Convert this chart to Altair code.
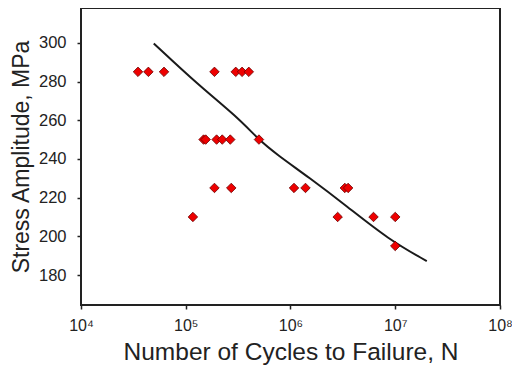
import altair as alt
import pandas as pd

# Experimental data: cycles to failure and stress amplitude (MPa)
cycles = [3.5e4, 4.4e4, 6.2e4, 1.88e5, 3.0e5, 3.45e5, 4.0e5,
          1.48e5, 1.55e5, 1.97e5, 2.23e5, 2.66e5, 5.0e5,
          1.88e5, 2.72e5, 1.08e6, 1.39e6, 3.3e6, 3.55e6,
          1.17e5, 2.82e6, 6.2e6, 1.0e7,
          1.0e7]
stress = [285, 285, 285, 285, 285, 285, 285,
          250, 250, 250, 250, 250, 250,
          225, 225, 225, 225, 225, 225,
          210, 210, 210, 210,
          195]

# Fitted S-N curve
curve_cycles = [4.95e4, 1.30e5, 3.10e5, 5.0e5, 7.4e5, 1.52e6, 3.37e6, 8.65e6, 2.0e7]
curve_stress = [299.7, 278.5, 261.7, 249.8, 242.3, 230.2, 216.0, 198.3, 187.2]

x_ticks = [1e4, 1e5, 1e6, 1e7, 1e8]
y_ticks = [180, 200, 220, 240, 260, 280, 300]

pts = pd.DataFrame({"N": cycles, "S": stress})
crv = pd.DataFrame({"N": curve_cycles, "S": curve_stress})

FONT = "Liberation Sans"
TXT = "#222222"

label_expr = ("datum.value == 10000 ? '10\u2074' : datum.value == 100000 ? '10\u2075' : "
              "datum.value == 1000000 ? '10\u2076' : datum.value == 10000000 ? '10\u2077' : '10\u2078'")

xscale = alt.Scale(type="log", domain=[1e4, 1e8])
yscale = alt.Scale(domain=[164.5, 318], nice=False, zero=False)

xaxis = alt.Axis(values=x_ticks, labelExpr=label_expr, title="Number of Cycles to Failure, N",
                 grid=False, domain=False, tickSize=4, tickColor=TXT, tickWidth=1.5,
                 labelFontSize=16, labelPadding=8, labelColor=TXT, labelFont=FONT,
                 titleFontSize=24.5, titleFontWeight="normal", titleFont=FONT, titleColor=TXT,
                 titlePadding=7, labelFlush=False)
yaxis = alt.Axis(values=y_ticks, title="Stress Amplitude, MPa",
                 grid=False, domain=False, tickSize=4, tickColor=TXT, tickWidth=1.5,
                 labelFontSize=16.5, labelPadding=11, labelColor=TXT, labelFont=FONT,
                 titleFontSize=23, titleFontWeight="normal", titleFont=FONT, titleColor=TXT,
                 titlePadding=5)

line = alt.Chart(crv).mark_line(color="#1a1a1a", strokeWidth=2, interpolate="basis").encode(
    x=alt.X("N:Q", scale=xscale, axis=xaxis),
    y=alt.Y("S:Q", scale=yscale, axis=yaxis),
)
points = alt.Chart(pts).mark_point(shape="diamond", filled=True, size=90, color="#ee0000",
                                   stroke="#6a0000", strokeWidth=0.8, opacity=1).encode(
    x=alt.X("N:Q", scale=xscale),
    y=alt.Y("S:Q", scale=yscale),
)

chart = alt.layer(line, points).properties(
    width=419, height=297,
    autosize=alt.AutoSizeParams(type="none"),
    padding={"left": 73, "top": 0, "right": 12, "bottom": 61},
    background="white",
).configure_view(stroke="#222222", strokeWidth=2)

chart.save("out.html", embed_options={"renderer": "svg", "actions": False})
